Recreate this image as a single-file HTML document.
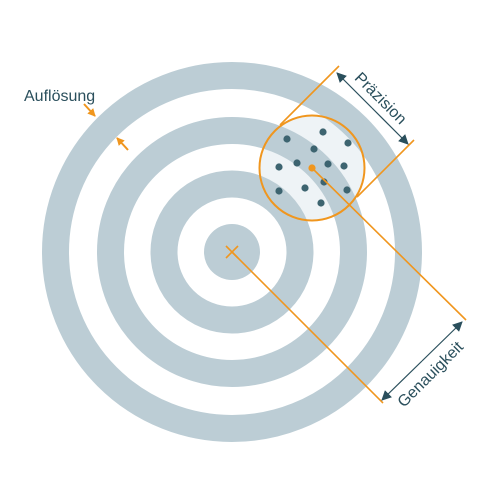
<!DOCTYPE html>
<html><head><style>html,body{margin:0;padding:0;background:#fff;}svg{display:block}</style></head>
<body>
<svg width="490" height="490" xmlns="http://www.w3.org/2000/svg" font-family="Liberation Sans, sans-serif">
<defs>
<marker id="ad" markerWidth="10" markerHeight="10" refX="9" refY="5" orient="auto" markerUnits="userSpaceOnUse"><path d="M0,0 L10,5 L0,10 z" fill="#2a4f5c"/></marker>
<marker id="ao" markerWidth="8" markerHeight="8" refX="7" refY="4" orient="auto" markerUnits="userSpaceOnUse"><path d="M0,0 L8,4 L0,8 z" fill="#f0961e"/></marker>
</defs>
<circle cx="312" cy="168" r="52.5" fill="#eef3f6"/>
<g fill="none" stroke="#bccdd5">
<circle cx="232" cy="252" r="176.5" stroke-width="27"/>
<circle cx="232" cy="252" r="121.5" stroke-width="27"/>
<circle cx="232" cy="252" r="68" stroke-width="27"/>
</g>
<circle cx="232" cy="252" r="28" fill="#bccdd5"/>
<circle cx="312" cy="168" r="52.5" fill="none" stroke="#f0961e" stroke-width="2"/>
<g fill="#3d6470">
<circle cx="287" cy="139" r="3.6"/><circle cx="323" cy="132" r="3.6"/><circle cx="348" cy="143" r="3.6"/>
<circle cx="314" cy="149" r="3.6"/><circle cx="297" cy="163" r="3.6"/><circle cx="279" cy="167" r="3.6"/>
<circle cx="328" cy="164" r="3.6"/><circle cx="344" cy="166" r="3.6"/><circle cx="324" cy="182" r="3.6"/>
<circle cx="305" cy="188" r="3.6"/><circle cx="279" cy="191" r="3.6"/><circle cx="347" cy="190" r="3.6"/>
<circle cx="321" cy="203" r="3.6"/>
</g>
<g stroke="#f0961e" stroke-width="1.6" fill="none">
<line x1="232" y1="252" x2="383" y2="403"/>
<line x1="312" y1="168" x2="466" y2="320"/>
<line x1="339" y1="66" x2="280" y2="125"/>
<line x1="414" y1="140" x2="357" y2="197"/>
<line x1="226" y1="246" x2="238" y2="258"/><line x1="238" y1="246" x2="226" y2="258"/>
<line x1="84" y1="104" x2="95" y2="116" marker-end="url(#ao)" stroke-width="2"/>
<line x1="128" y1="150" x2="117" y2="138" marker-end="url(#ao)" stroke-width="2"/>
</g>
<circle cx="312" cy="168" r="3.6" fill="#f0961e"/>
<g stroke="#2a4f5c" stroke-width="1.2">
<line x1="372" y1="108" x2="337" y2="73" marker-end="url(#ad)"/>
<line x1="372" y1="108" x2="408" y2="144" marker-end="url(#ad)"/>
<line x1="422" y1="361" x2="462" y2="322" marker-end="url(#ad)"/>
<line x1="422" y1="361" x2="382" y2="400" marker-end="url(#ad)"/>
</g>
<g fill="#2a4f5c" font-size="16">
<text x="24" y="101">Auflösung</text>
<text x="0" y="0" text-anchor="middle" transform="translate(377,102) rotate(45)">Präzision</text>
<text x="0" y="0" text-anchor="middle" transform="translate(434,378) rotate(-45)">Genauigkeit</text>
</g>
</svg>
</body></html>
